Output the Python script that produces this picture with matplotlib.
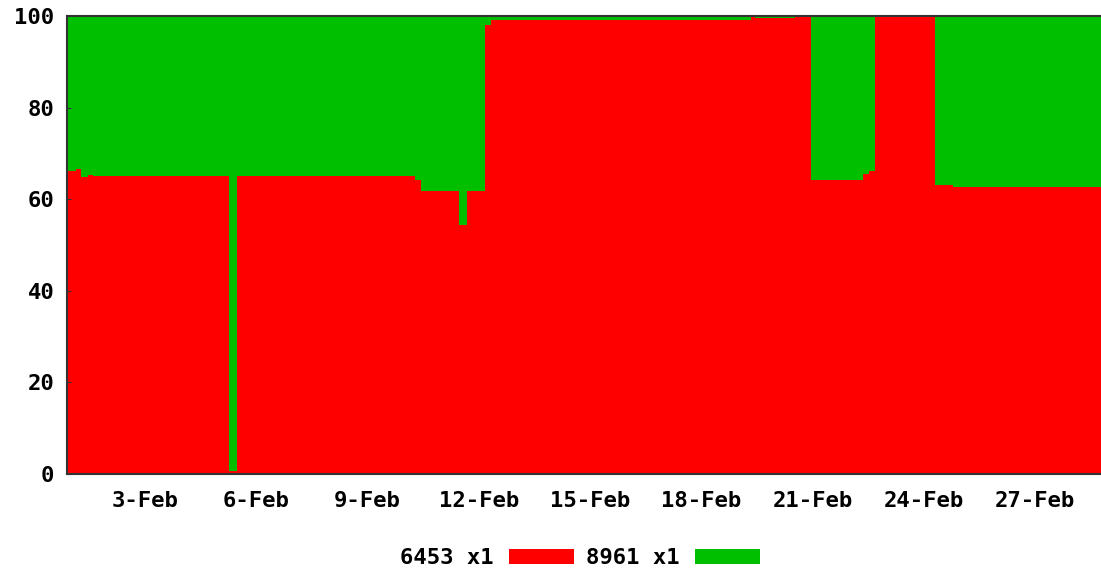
import matplotlib
matplotlib.use("Agg")
import matplotlib.pyplot as plt
from matplotlib.patches import Patch

# step change points, in days of February (value holds until next point)
days = [0.90, 1.14, 1.28, 1.47, 1.60, 5.27, 5.48, 10.28, 10.44, 11.47, 11.68,
        12.17, 12.33, 19.34, 19.44, 20.52, 20.95, 22.36, 22.52, 22.68, 24.30,
        24.78, 28.77]
red_6453 = [66.2, 66.5, 64.9, 65.2, 65.0, 0.7, 65.0, 64.3, 61.7, 54.3, 61.7,
            98.0, 99.2, 100.0, 99.5, 100.0, 64.3, 65.6, 66.2, 100.0, 63.1,
            62.6, 62.6]
green_8961 = [100 - v for v in red_6453]

tick_days = [3, 6, 9, 12, 15, 18, 21, 24, 27]
tick_labels = ["%d-Feb" % d for d in tick_days]
y_ticks = [0, 20, 40, 60, 80, 100]

RED = "#ff0000"
GREEN = "#00bf00"
FONT = dict(family="DejaVu Sans Mono", weight="bold", size=16)

fig = plt.figure(figsize=(11.01, 5.74), dpi=100)
ax = fig.add_axes([67 / 1101, 1 - 474 / 574, 1 - 67 / 1101, (474 - 16) / 574])

top = [r + g for r, g in zip(red_6453, green_8961)]
ax.fill_between(days, 0, red_6453, step="post", color=RED, linewidth=0)
ax.fill_between(days, red_6453, top, step="post", color=GREEN, linewidth=0)

ax.set_xlim(days[0], days[-1])
ax.set_ylim(0, 100)
ax.set_xticks(tick_days)
ax.set_xticklabels(tick_labels, **FONT)
ax.set_yticks(y_ticks)
ax.set_yticklabels([str(v) for v in y_ticks], **FONT)
ax.tick_params(axis="x", length=0, pad=12)
ax.tick_params(axis="y", length=3, direction="in", pad=9, color="#333333")

for side in ["left", "top", "bottom"]:
    ax.spines[side].set_color("#333333")
    ax.spines[side].set_linewidth(1.5)
ax.spines["right"].set_visible(False)

handles = [Patch(facecolor=RED, label="6453 x1"),
           Patch(facecolor=GREEN, label="8961 x1")]
fig.legend(handles=handles, loc="center", ncol=2, markerfirst=False,
           bbox_to_anchor=(580 / 1101, 1 - 558 / 574), frameon=False,
           prop=FONT, handlelength=2.9, handleheight=0.65,
           handletextpad=0.7, columnspacing=0.55)

fig.savefig("out.png", dpi=100)
